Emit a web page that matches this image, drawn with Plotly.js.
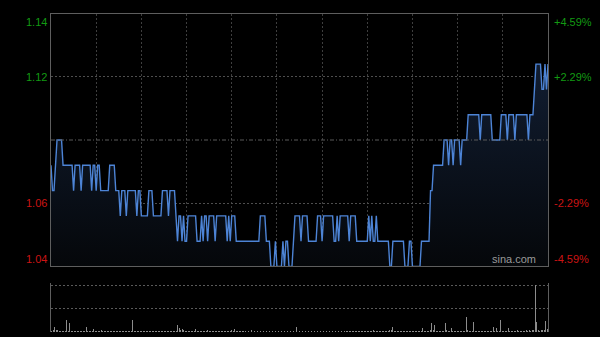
<!DOCTYPE html>
<html>
<head>
<meta charset="utf-8">
<script src="https://cdn.plot.ly/plotly-3.0.1.min.js"></script>
<style>html,body{margin:0;padding:0;background:#000;}#chart{width:600px;height:337px;}</style>
</head>
<body>
<div id="chart"></div>
<script>
// ---- data (HK intraday, 1-minute, 09:30-16:00 = 330 min) ----
const prevClose = 1.09;
const price = [
1.08,1.07,1.07,1.08,1.09,1.09,1.09,1.09,1.08,1.08,
1.08,1.08,1.08,1.08,1.08,1.07,1.08,1.08,1.08,1.08,
1.07,1.08,1.08,1.08,1.08,1.08,1.08,1.07,1.08,1.08,
1.07,1.08,1.08,1.07,1.07,1.07,1.07,1.07,1.07,1.08,
1.08,1.08,1.08,1.07,1.07,1.07,1.06,1.07,1.07,1.07,
1.06,1.07,1.07,1.07,1.07,1.07,1.07,1.06,1.07,1.07,
1.06,1.06,1.06,1.06,1.06,1.07,1.07,1.07,1.06,1.06,
1.06,1.06,1.06,1.06,1.07,1.07,1.07,1.07,1.06,1.07,
1.07,1.07,1.07,1.06,1.05,1.06,1.06,1.05,1.06,1.05,
1.05,1.06,1.06,1.06,1.06,1.06,1.06,1.05,1.05,1.05,
1.06,1.05,1.06,1.06,1.05,1.06,1.06,1.06,1.06,1.05,
1.06,1.06,1.06,1.06,1.06,1.06,1.06,1.05,1.06,1.05,
1.06,1.06,1.06,1.05,1.05,1.05,1.05,1.05,1.05,1.05,
1.05,1.05,1.05,1.05,1.05,1.05,1.05,1.05,1.05,1.06,
1.06,1.06,1.06,1.05,1.05,1.05,1.04,1.04,1.04,1.05,
1.04,1.04,1.04,1.04,1.05,1.04,1.05,1.05,1.04,1.04,
1.04,1.05,1.06,1.06,1.06,1.06,1.05,1.06,1.06,1.06,
1.06,1.05,1.05,1.05,1.05,1.05,1.05,1.06,1.06,1.06,
1.05,1.06,1.06,1.06,1.06,1.06,1.06,1.06,1.05,1.05,
1.06,1.05,1.06,1.06,1.06,1.06,1.06,1.06,1.05,1.06,
1.06,1.06,1.06,1.05,1.05,1.05,1.05,1.05,1.05,1.05,
1.05,1.06,1.05,1.06,1.05,1.05,1.06,1.05,1.05,1.05,
1.05,1.05,1.05,1.05,1.05,1.04,1.04,1.05,1.05,1.05,
1.05,1.05,1.05,1.05,1.05,1.04,1.04,1.04,1.05,1.05,
1.04,1.04,1.04,1.04,1.04,1.04,1.05,1.05,1.05,1.05,
1.05,1.05,1.07,1.07,1.08,1.08,1.08,1.08,1.08,1.08,
1.08,1.09,1.09,1.09,1.08,1.09,1.09,1.08,1.09,1.09,
1.09,1.09,1.08,1.09,1.09,1.09,1.09,1.10,1.10,1.10,
1.10,1.10,1.10,1.10,1.10,1.09,1.10,1.10,1.10,1.10,
1.10,1.10,1.10,1.09,1.09,1.09,1.09,1.09,1.09,1.10,
1.10,1.10,1.10,1.09,1.10,1.10,1.10,1.10,1.09,1.10,
1.10,1.10,1.10,1.10,1.10,1.10,1.10,1.09,1.10,1.10,
1.10,1.11,1.12,1.12,1.12,1.12,1.11,1.11,1.12,1.11,
1.12
];
const volume = [
15,20,47,25,18,10,12,8,10,14,
120,15,87,12,10,8,10,12,9,10,
8,10,12,47,10,8,12,10,28,10,
9,12,10,25,8,10,9,8,10,12,
8,10,9,12,8,10,9,8,10,9,
8,10,12,9,120,10,8,9,10,8,
9,8,10,8,9,12,8,10,9,8,
10,9,8,12,10,8,9,10,8,12,
10,9,12,15,70,38,20,35,18,12,
10,9,8,12,10,14,28,10,8,9,
10,8,12,10,25,9,8,10,9,12,
8,10,9,8,12,10,8,9,10,14,
20,10,35,12,9,8,10,9,8,10,
9,12,10,25,8,10,9,10,18,8,
9,10,8,12,10,9,110,12,10,8,
9,10,8,12,10,8,9,10,12,9,
8,10,15,53,12,10,8,9,10,8,
9,10,8,10,9,8,10,9,8,10,
8,9,10,8,9,8,10,9,8,10,
9,8,10,12,9,8,10,9,8,10,
9,8,10,8,9,10,8,9,10,12,
8,9,10,12,20,10,8,9,10,8,
10,9,12,10,15,18,20,47,15,12,
10,9,12,10,8,12,10,14,9,10,
8,10,12,9,10,12,15,37,12,10,
15,12,20,93,18,70,15,12,10,12,
15,12,93,20,12,15,37,12,10,9,
10,12,9,10,12,15,150,18,12,10,
12,100,15,12,10,9,12,10,9,10,
12,10,9,15,53,12,37,10,12,120,
15,12,10,9,37,12,10,9,10,12,
20,10,9,12,10,15,18,12,20,15,
18,25,470,97,20,15,18,25,20,110,
30
];
const priceLabels = ["1.14", "1.12", "1.06", "1.04"];
const pctLabels = ["+4.59%", "+2.29%", "-2.29%", "-4.59%"];
const labelLevels = [1.14, 1.115, 1.065, 1.04];
const minutes = price.map((_, i) => i);

const GREEN = '#139a13', RED = '#cc1414';
const fontFam = 'Arial, "Liberation Sans", sans-serif';

const traces = [
  {
    x: minutes, y: price, type: 'scatter', mode: 'lines',
    line: {color: '#4d84d6', width: 1.4},
    fill: 'tozeroy',
    fillgradient: {type: 'vertical', start: 1.04, stop: 1.12,
      colorscale: [[0, '#05070a'], [1, '#111d31']]},
    hoverinfo: 'skip', xaxis: 'x', yaxis: 'y'
  },
  {
    x: minutes, y: volume, type: 'bar', width: 0.6,
    marker: {color: '#8c8c8c', line: {width: 0}},
    hoverinfo: 'skip', xaxis: 'x2', yaxis: 'y2'
  }
];

const annotations = [];
labelLevels.forEach((lv, k) => {
  const col = lv > prevClose ? GREEN : RED;
  const ya = k === 0 ? 'top' : (k === labelLevels.length - 1 ? 'bottom' : 'middle');
  annotations.push({xref: 'paper', yref: 'y', x: 0, y: lv, xanchor: 'right', yanchor: ya,
    xshift: -2, text: priceLabels[k], showarrow: false,
    font: {family: fontFam, size: 11, color: col}});
  annotations.push({xref: 'paper', yref: 'y', x: 1, y: lv, xanchor: 'left', yanchor: ya,
    xshift: 4, text: pctLabels[k], showarrow: false,
    font: {family: fontFam, size: 11, color: col}});
});
annotations.push({xref: 'paper', yref: 'y', x: 1, y: 1.04, xanchor: 'right', yanchor: 'bottom',
  xshift: -10, text: 'sina.com', showarrow: false,
  font: {family: fontFam, size: 11, color: '#9a9a9a'}});

const layout = {
  width: 600, height: 337,
  margin: {l: 51, r: 52, t: 0, b: 0, pad: 0},
  paper_bgcolor: '#000', plot_bgcolor: '#000',
  showlegend: false,
  bargap: 0,
  xaxis: {domain: [0, 1], range: [0, 330], tick0: 0, dtick: 30, showticklabels: false,
    ticks: '', showgrid: true, gridcolor: '#3e3e3e', griddash: '2px,2px', gridwidth: 1,
    zeroline: false, showline: true, mirror: true, linecolor: '#5e5e5e', linewidth: 1},
  yaxis: {domain: [0.2092, 0.9599], range: [1.04, 1.14], tickvals: [1.065, 1.115],
    showticklabels: false, ticks: '', showgrid: true, gridcolor: '#4e4e4e',
    griddash: '2px,2px', zeroline: false, showline: true, mirror: true,
    linecolor: '#5e5e5e', linewidth: 1},
  xaxis2: {anchor: 'y2', domain: [0, 1], range: [-0.5, 330.5], showticklabels: false,
    ticks: '', showgrid: false, zeroline: false, showline: false},
  yaxis2: {anchor: 'x2', domain: [0.0148, 0.1602], range: [0, 490], tickvals: [235, 470],
    showticklabels: false, ticks: '', showgrid: true, gridcolor: '#5a5a5a',
    griddash: '2px,2px', zeroline: false, showline: true, mirror: true,
    linecolor: '#5e5e5e', linewidth: 1},
  shapes: [{type: 'line', xref: 'paper', yref: 'y', x0: 0, x1: 1, y0: prevClose, y1: prevClose,
    line: {color: '#5a5a5a', width: 1, dash: '4px,2px,1px,2px'}}],
  annotations: annotations
};

Plotly.newPlot('chart', traces, layout, {staticPlot: true, displayModeBar: false});
</script>
</body>
</html>
